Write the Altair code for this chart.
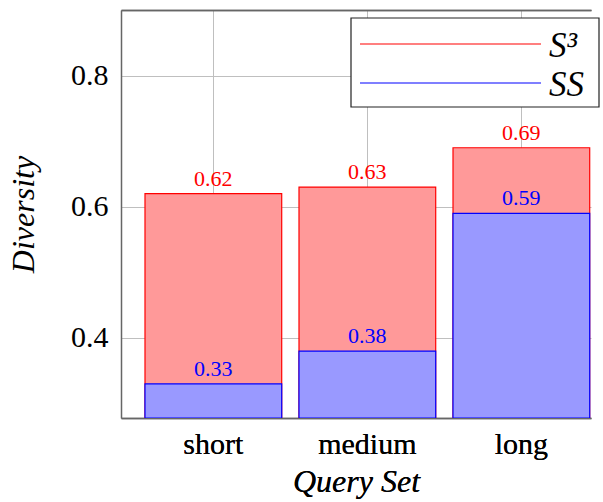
import altair as alt
import pandas as pd

# Diversity of the two methods per query-set length
categories = ["short", "medium", "long"]
series_names = ["S³", "SS"]
s3_values = [0.62, 0.63, 0.69]
ss_values = [0.33, 0.38, 0.59]

line_colors = ["#ff0000", "#0000ff"]
fill_colors = ["#ff9999", "#9999ff"]

rows = []
for name, vals in zip(series_names, [s3_values, ss_values]):
    for cat, val in zip(categories, vals):
        rows.append({"query_set": cat, "series": name, "diversity": val})
df = pd.DataFrame(rows)

FONT = "Liberation Serif"
FRAME = "#666666"

# band layout pushed toward the right edge of the plot area
x_scale = alt.Scale(paddingInner=0.1123, paddingOuter=0.0821, align=0.949)
y_scale = alt.Scale(domain=[0.278, 0.9], nice=False, zero=False)

x_bottom = alt.X(
    "query_set:N",
    sort=categories,
    title="Query Set",
    scale=x_scale,
    axis=alt.Axis(
        orient="bottom",
        labelAngle=0,
        bandPosition=0.5,
        tickExtra=False,
        ticks=False,
        domain=True,
        grid=True,
        labelPadding=11,
        titlePadding=7,
    ),
)
# top edge of the frame: a label-less axis on the opposite side
x_top = alt.X(
    "query_set:N",
    sort=categories,
    scale=x_scale,
    axis=alt.Axis(
        orient="top",
        labels=False,
        ticks=False,
        grid=False,
        tickExtra=False,
        domain=True,
        title=None,
    ),
)
y_left = alt.Y(
    "diversity:Q",
    stack=None,
    title="Diversity",
    scale=y_scale,
    axis=alt.Axis(
        values=[0.4, 0.6, 0.8],
        format=".1f",
        ticks=False,
        domain=True,
        grid=True,
        labelPadding=13,
        titlePadding=30,
    ),
)

base = alt.Chart(df)


def bar_layer(name, fill, stroke):
    return (
        base.transform_filter(alt.datum.series == name)
        .mark_bar(clip=True, strokeWidth=1.2, opacity=1, fill=fill, stroke=stroke)
        .encode(x=x_bottom, y=y_left)
    )


def label_layer(name, color):
    return (
        base.transform_filter(alt.datum.series == name)
        .mark_text(dy=-8, baseline="alphabetic", fontSize=22, font=FONT, color=color)
        .encode(x=x_top, y=y_left, text=alt.Text("diversity:Q", format=".2f"))
    )


# S³ bars first, SS bars drawn in front of them
s3_bars = bar_layer(series_names[0], fill_colors[0], line_colors[0])
ss_bars = bar_layer(series_names[1], fill_colors[1], line_colors[1])
s3_labels = label_layer(series_names[0], line_colors[0])
ss_labels = label_layer(series_names[1], line_colors[1])

# Legend box in the upper-right corner of the plot
legend_df = pd.DataFrame({"series": series_names})
legend_base = alt.Chart(legend_df)

legend_box = legend_base.transform_filter(alt.datum.series == series_names[0]).mark_rect(
    fill="white", stroke="#222222", strokeWidth=1.2
).encode(
    x=alt.value(230), x2=alt.value(478), y=alt.value(8), y2=alt.value(97)
)


def legend_entry(name, color, row_y):
    sel = legend_base.transform_filter(alt.datum.series == name)
    line = sel.mark_rule(color=color, strokeWidth=1.2).encode(
        x=alt.value(239), x2=alt.value(420), y=alt.value(row_y)
    )
    text = sel.mark_text(
        align="left",
        baseline="alphabetic",
        font=FONT,
        fontStyle="italic",
        fontSize=35,
        color="black",
    ).encode(x=alt.value(428), y=alt.value(row_y + 13), text="series:N")
    return line + text


legend_s3 = legend_entry(series_names[0], line_colors[0], 34)
legend_ss = legend_entry(series_names[1], line_colors[1], 73)

chart = (
    alt.layer(
        s3_bars, ss_bars, s3_labels, ss_labels, legend_box, legend_s3, legend_ss
    )
    .properties(
        width=470,
        height=408,
        padding={"left": 121, "top": 10, "right": 12, "bottom": 84},
        autosize=alt.AutoSizeParams(type="none"),
        background="white",
    )
    .configure_view(stroke=None, strokeWidth=0)
    .configure_axis(
        labelFont=FONT,
        labelFontSize=30,
        labelColor="black",
        titleFont=FONT,
        titleFontSize=32,
        titleFontStyle="italic",
        titleFontWeight="normal",
        titleColor="black",
        gridColor="#bfbfbf",
        gridWidth=1,
        domainColor=FRAME,
        domainWidth=1.5,
    )
)

chart.save("out.html", embed_options={"renderer": "svg", "actions": False})
